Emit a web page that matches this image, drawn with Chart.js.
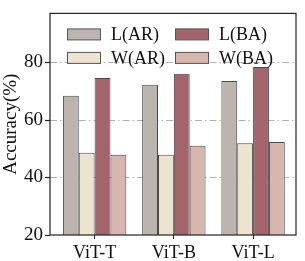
<!DOCTYPE html>
<html>
<head>
<meta charset="utf-8">
<script src="https://cdn.jsdelivr.net/npm/chart.js@4/dist/chart.umd.min.js"></script>
<style>
	html, body { margin: 0; padding: 0; background: #fff; }
	#wrap { width: 305px; height: 261px; }
</style>
</head>
<body>
<div id="wrap"><canvas id="acc-chart" width="305" height="261"></canvas></div>
<script>
const categories = [ 'ViT-T', 'ViT-B', 'ViT-L' ];
const seriesNames = [ 'L(AR)', 'W(AR)', 'L(BA)', 'W(BA)' ];
const lAR = [ 68.3, 72.1, 73.4 ];
const wAR = [ 48.5, 47.8, 51.8 ];
const lBA = [ 74.4, 75.9, 78.2 ];
const wBA = [ 47.8, 50.9, 52.2 ];
const yTicks = [ 20, 40, 60, 80 ];

const colors = [ '#bcb4ae', '#ece3d1', '#a1656b', '#d7b6b0' ];
const serif = "'Liberation Serif', 'Times New Roman', serif";

// the axes box is a bit wider than the category range (matplotlib xlim)
const frameLeft = 50;
const frameRight = 296;

// dashed gridlines behind the bars, spanning the whole frame
const backGrid = {
	id: 'backGrid',
	beforeDatasetsDraw: ( chart ) => {
		const ctx = chart.ctx;
		const y = chart.scales.y;
		ctx.save();
		ctx.strokeStyle = '#b0b0b0';
		ctx.lineWidth = 1;
		ctx.setLineDash( [ 7, 3, 1.5, 3 ] );
		yTicks.slice( 1 ).forEach( ( v ) => {
			const py = Math.round( y.getPixelForValue( v ) ) + 0.5;
			ctx.beginPath();
			ctx.moveTo( frameLeft, py );
			ctx.lineTo( frameRight, py );
			ctx.stroke();
		} );
		ctx.restore();
	}
};

// legend inside plot area (2 x 2) plus the axes frame and y tick marks
const frameAndLegend = {
	id: 'frameAndLegend',
	afterDraw: ( chart ) => {
		const ctx = chart.ctx;
		const area = chart.chartArea;
		const y = chart.scales.y;
		const order = [ 0, 2, 1, 3 ];
		ctx.save();
		ctx.font = '18px ' + serif;
		ctx.textBaseline = 'middle';
		order.forEach( ( idx, i ) => {
			const col = i % 2;
			const row = Math.floor( i / 2 );
			const x = 67 + col * 108;
			const cy = area.top + 21 + row * 23.5;
			ctx.fillStyle = colors[ idx ];
			ctx.strokeStyle = '#555';
			ctx.lineWidth = 1;
			ctx.fillRect( x, cy - 5.5, 34, 11 );
			ctx.strokeRect( x + 0.5, cy - 5.5, 33, 11 );
			ctx.fillStyle = '#111';
			ctx.fillText( seriesNames[ idx ], x + 44, cy + 1 );
		} );
		ctx.strokeStyle = '#222';
		ctx.lineWidth = 1.2;
		ctx.strokeRect( frameLeft, area.top, frameRight - frameLeft, area.bottom - area.top );
		yTicks.forEach( ( v ) => {
			const py = Math.round( y.getPixelForValue( v ) ) + 0.5;
			ctx.beginPath();
			ctx.moveTo( frameLeft - 5, py );
			ctx.lineTo( frameLeft, py );
			ctx.stroke();
		} );
		ctx.restore();
	}
};

const datasetValues = [ lAR, wAR, lBA, wBA ];

new Chart( document.getElementById( 'acc-chart' ), {
	type: 'bar',
	data: {
		labels: categories,
		datasets: datasetValues.map( ( vals, i ) => ( {
			label: seriesNames[ i ],
			data: vals,
			backgroundColor: colors[ i ],
			borderColor: '#4a4a4a',
			borderWidth: 1,
			borderSkipped: 'bottom',
			categoryPercentage: 0.8,
			barPercentage: 1.0,
		} ) ),
	},
	options: {
		responsive: false,
		animation: false,
		devicePixelRatio: 1,
		layout: { padding: { top: 11, right: 12.3, left: 0, bottom: 0 } },
		plugins: {
			legend: { display: false },
			tooltip: { enabled: false },
		},
		scales: {
			x: {
				afterFit: ( scale ) => { scale.height = 26; },
				grid: {
					drawOnChartArea: false,
					tickLength: 4,
					tickColor: '#222',
					offset: false,
				},
				border: { display: false },
				ticks: {
					color: '#111',
					font: { family: serif, size: 18 },
					padding: 3,
					maxRotation: 0,
				},
			},
			y: {
				min: 20,
				max: 96.8,
				afterBuildTicks: ( scale ) => {
					scale.ticks = yTicks.map( ( v ) => ( { value: v } ) );
				},
				afterFit: ( scale ) => { scale.width = 55; },
				grid: {
					drawOnChartArea: false,
					drawTicks: true,
					tickLength: 10,
					tickColor: 'rgba(0,0,0,0)',
					color: 'rgba(0,0,0,0)',
				},
				border: { display: false },
				ticks: {
					color: '#111',
					font: { family: serif, size: 19 },
					padding: 2,
				},
				title: {
					display: true,
					text: 'Accuracy(%)',
					color: '#111',
					font: { family: serif, size: 19 },
					padding: { top: 0, bottom: 0 },
				},
			},
		},
	},
	plugins: [ backGrid, frameAndLegend ],
} );
</script>
</body>
</html>
